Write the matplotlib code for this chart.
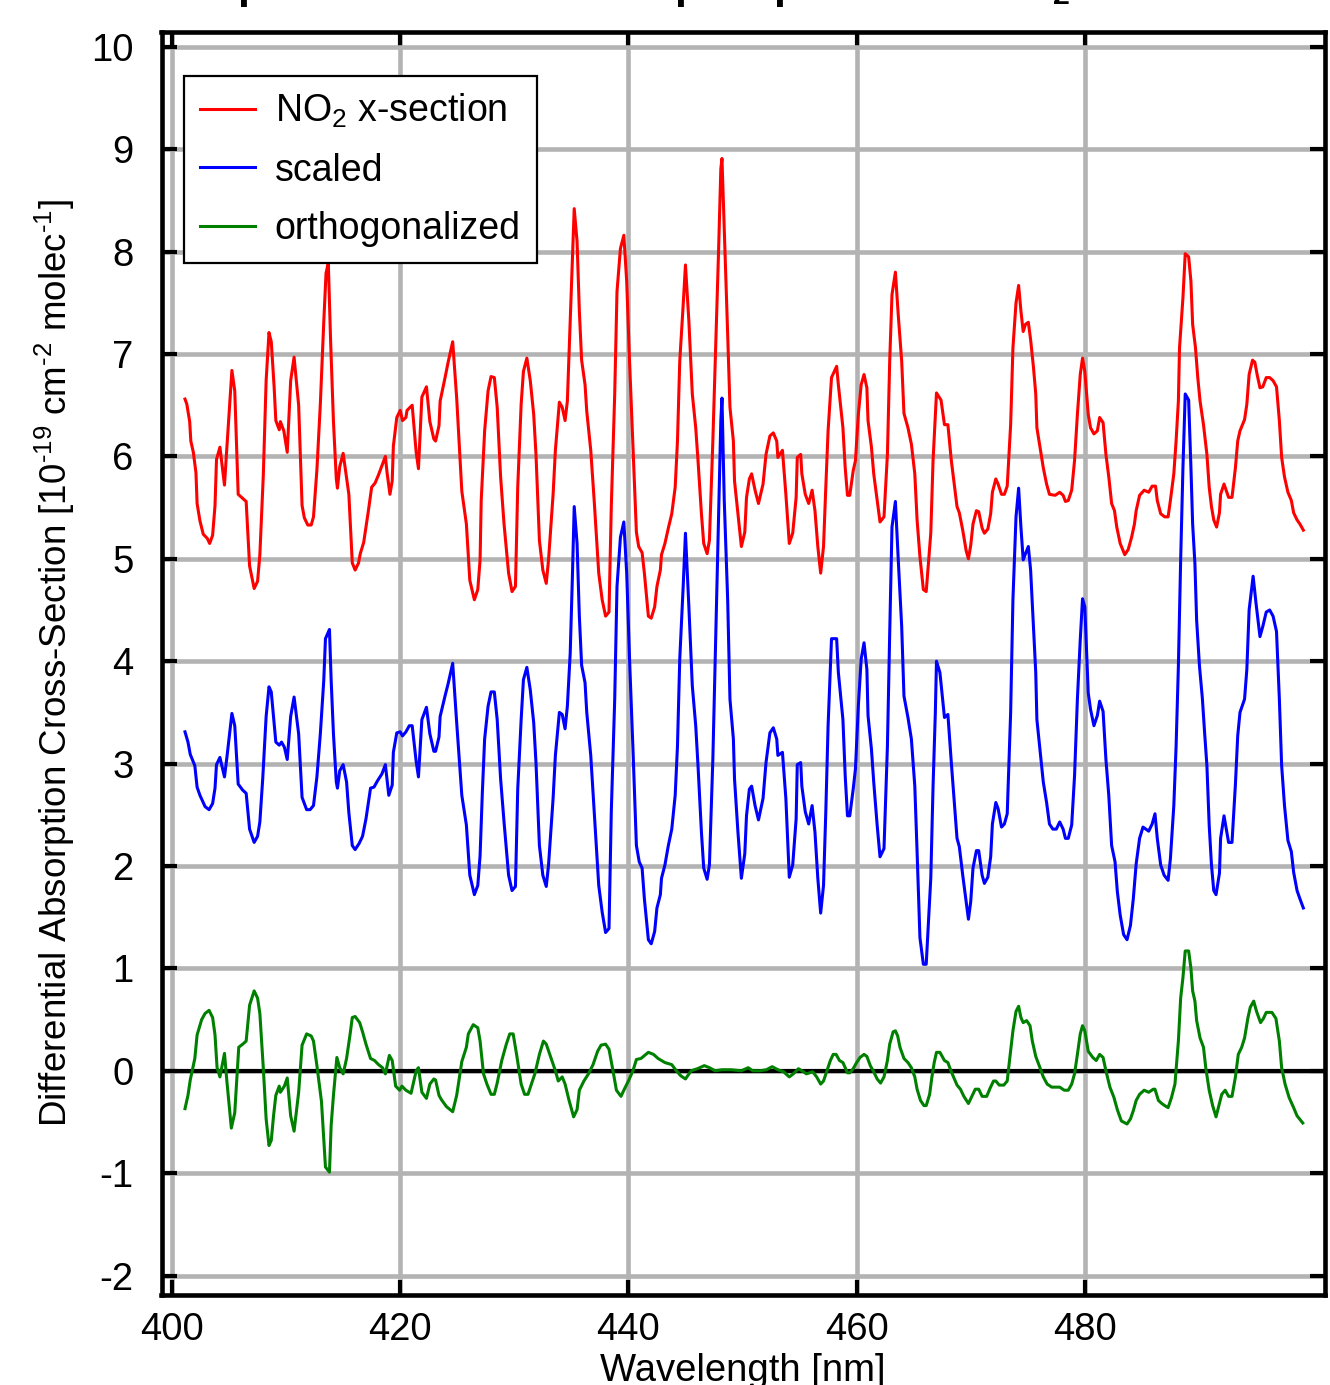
import numpy as np
import matplotlib
matplotlib.use("Agg")
import matplotlib.pyplot as plt

plt.rcParams['font.family'] = ['Liberation Sans', 'DejaVu Sans']
plt.rcParams['mathtext.fontset'] = 'custom'
plt.rcParams['mathtext.rm'] = 'Liberation Sans'
plt.rcParams['mathtext.it'] = 'Liberation Sans:italic'
plt.rcParams['mathtext.bf'] = 'Liberation Sans:bold'
plt.rcParams['axes.unicode_minus'] = False

# ---------------- data ----------------
wl_no2 = [401.14, 401.3, 401.55, 401.65, 401.87, 402.1, 402.2, 402.45, 402.74, 403.09, 403.3, 403.56, 403.77, 403.9,
          404.2, 404.6, 404.8, 405.25, 405.5, 405.8, 406.2, 406.5, 406.8, 407.2, 407.5, 407.7, 408.0, 408.25, 408.5,
          408.7, 408.95, 409.1, 409.4, 409.5, 409.8, 410.1, 410.4, 410.7, 411.1, 411.4, 411.6, 411.9, 412.2, 412.4,
          412.7, 413.0, 413.3, 413.5, 413.7, 413.9, 414.15, 414.4, 414.5, 414.7, 415.0, 415.2, 415.5, 415.8, 416.05,
          416.35, 416.5, 416.8, 417.2, 417.5, 417.8, 418.1, 418.4, 418.7, 418.85, 419.1, 419.3, 419.4, 419.7, 420.0,
          420.2, 420.5, 420.6, 421.05, 421.4, 421.6, 421.9, 422.3, 422.6, 422.95, 423.1, 423.4, 423.5, 423.95, 424.2,
          424.6, 424.95, 425.4, 425.8,
          426.1, 426.5, 426.8, 427.0, 427.1, 427.4, 427.7, 427.96, 428.25, 428.5, 428.8, 429.1, 429.5, 429.8, 430.1,
          430.3, 430.6, 430.8, 431.1, 431.4, 431.7, 431.9, 432.2, 432.5, 432.8, 433.0, 433.4, 433.6, 433.95, 434.2,
          434.45, 434.65, 434.9, 435.1, 435.25, 435.5, 435.7, 435.9, 436.2, 436.35, 436.7, 437.0, 437.4, 437.7,
          438.0, 438.3, 438.5, 438.8, 439.0, 439.3, 439.6, 439.85, 440.1, 440.4, 440.7, 440.9, 441.2, 441.4, 441.75,
          442.0, 442.3, 442.5, 442.8, 442.9, 443.2, 443.5, 443.8, 444.1, 444.3, 444.5, 444.8, 445.0, 445.3, 445.6,
          445.9, 446.1, 446.4, 446.6, 446.9, 447.1, 447.4, 447.65, 447.9, 448.1, 448.2, 448.4, 448.7, 448.9, 449.2,
          449.3, 449.6, 449.9, 450.2, 450.35, 450.6, 450.8, 451.1, 451.4,
          451.8, 452.06, 452.4, 452.7, 453.0, 453.1, 453.5, 453.8, 454.1, 454.4, 454.7, 454.8, 455.1, 455.2, 455.5,
          455.8, 456.1, 456.35, 456.6, 456.85, 457.1, 457.3, 457.5, 457.8, 458.25, 458.4, 458.8, 459.0, 459.2,
          459.4, 459.7, 459.9, 460.15, 460.4, 460.65, 460.9, 461.0, 461.3, 461.5, 461.8, 462.05, 462.4, 462.7,
          462.9, 463.1, 463.4, 463.65, 463.95, 464.15, 464.5, 464.8, 465.1, 465.3, 465.55, 465.85, 466.1, 466.5,
          466.7, 466.9, 467.0, 467.4, 467.7, 468.0, 468.3, 468.8, 469.0, 469.3, 469.6, 469.8, 470.0, 470.2, 470.5,
          470.7, 471.0, 471.2, 471.5, 471.75, 471.9, 472.2, 472.4, 472.7, 472.95, 473.2, 473.5, 473.7, 473.97,
          474.2, 474.4, 474.6, 474.8, 475.05, 475.25, 475.5, 475.7, 475.8,
          476.36, 476.65, 476.9, 477.4, 477.8, 478.1, 478.3, 478.55, 478.85, 479.1, 479.35, 479.6, 479.8, 480.0,
          480.3, 480.5, 480.8, 481.1, 481.3, 481.6, 481.85, 482.1, 482.35, 482.6, 482.8, 483.1, 483.5, 483.8,
          484.1, 484.35, 484.5, 484.8, 485.2, 485.6, 485.9, 486.2, 486.35, 486.65, 487.0, 487.3, 487.5, 487.8,
          488.0, 488.2, 488.3, 488.6, 488.8, 489.1, 489.3, 489.45, 489.7, 489.9, 490.1, 490.4, 490.7, 490.9,
          491.1, 491.3, 491.55, 491.8, 491.9, 492.2, 492.6, 492.9, 493.2, 493.4, 493.6, 494.0, 494.2, 494.4,
          494.7, 494.9, 495.1, 495.35, 495.6, 495.9, 496.2, 496.5, 496.8, 497.05, 497.25, 497.5, 497.8, 498.1,
          498.3, 498.6, 498.85, 499.15]
no2_xsec = [6.56, 6.51, 6.34, 6.15, 6.04, 5.84, 5.54, 5.37, 5.24, 5.20, 5.15, 5.23, 5.52, 5.97,
            6.09, 5.72, 6.07, 6.84, 6.64, 5.63, 5.59, 5.56, 4.93, 4.71, 4.78, 5.04, 5.81, 6.74, 7.21,
            7.12, 6.68, 6.35, 6.26, 6.34, 6.25, 6.04, 6.74, 6.97, 6.50, 5.52, 5.40, 5.33, 5.33, 5.41,
            5.87, 6.51, 7.31, 7.79, 7.89, 7.13, 6.34, 5.78, 5.69, 5.90, 6.03, 5.87, 5.63, 4.96, 4.89,
            4.96, 5.05, 5.16, 5.46, 5.70, 5.74, 5.82, 5.91, 6.00, 5.84, 5.63, 5.76, 6.10, 6.38, 6.45,
            6.35, 6.38, 6.45, 6.50, 6.04, 5.88, 6.58, 6.68, 6.34, 6.17, 6.15, 6.30, 6.54, 6.78, 6.92,
            7.12, 6.57, 5.66, 5.34,
            4.79, 4.60, 4.70, 4.99, 5.57, 6.25, 6.64, 6.78, 6.77, 6.48, 5.80, 5.34, 4.86, 4.68, 4.73,
            5.70, 6.51, 6.83, 6.96, 6.74, 6.41, 6.02, 5.18, 4.89, 4.76, 4.99, 5.63, 6.06, 6.53, 6.48,
            6.35, 6.54, 7.32, 7.97, 8.42, 8.10, 7.42, 6.94, 6.70, 6.44, 6.06, 5.57, 4.86, 4.60,
            4.44, 4.48, 5.51, 6.61, 7.61, 8.03, 8.16, 7.71, 6.93, 6.09, 5.26, 5.12, 5.06, 4.86, 4.44,
            4.42, 4.53, 4.73, 4.89, 5.04, 5.15, 5.30, 5.44, 5.70, 6.15, 6.93, 7.48, 7.87, 7.32, 6.61,
            6.28, 5.96, 5.44, 5.15, 5.05, 5.18, 6.15, 7.06, 8.00, 8.81, 8.91, 8.23, 7.19, 6.48, 6.15,
            5.76, 5.44, 5.12, 5.26, 5.60, 5.78, 5.83, 5.67, 5.54,
            5.73, 6.02, 6.20, 6.23, 6.15, 5.99, 6.06, 5.63, 5.15, 5.25, 5.60, 5.99, 6.02, 5.83, 5.63,
            5.54, 5.67, 5.47, 5.12, 4.86, 5.12, 5.70, 6.25, 6.77, 6.88, 6.70, 6.28, 5.89, 5.62,
            5.62, 5.86, 5.96, 6.41, 6.70, 6.80, 6.67, 6.35, 6.09, 5.83, 5.57, 5.36, 5.41, 6.02,
            6.93, 7.58, 7.80, 7.38, 6.93, 6.42, 6.28, 6.12, 5.83, 5.38, 5.02, 4.70, 4.68, 5.25,
            5.96, 6.41, 6.62, 6.55, 6.31, 6.31, 5.96, 5.51, 5.45, 5.28, 5.08, 5.00, 5.13, 5.34, 5.47,
            5.46, 5.30, 5.25, 5.29, 5.44, 5.65, 5.78, 5.73, 5.63, 5.63, 5.71, 6.31, 7.06, 7.50,
            7.67, 7.42, 7.22, 7.29, 7.31, 7.14, 6.87, 6.61, 6.28,
            5.89, 5.73, 5.63, 5.62, 5.65, 5.62, 5.56, 5.57, 5.67, 5.96, 6.41, 6.80, 6.96, 6.83,
            6.41, 6.28, 6.22, 6.25, 6.38, 6.33, 6.02, 5.80, 5.54, 5.47, 5.31, 5.15, 5.04, 5.09,
            5.21, 5.34, 5.47, 5.62, 5.67, 5.65, 5.71, 5.71, 5.57, 5.44, 5.41, 5.41, 5.57, 5.83,
            6.15, 6.54, 7.06, 7.55, 7.98, 7.95, 7.71, 7.29, 7.06, 6.77, 6.54, 6.31, 6.02, 5.70,
            5.51, 5.38, 5.31, 5.45, 5.63, 5.73, 5.60, 5.60, 5.89, 6.15, 6.25, 6.36, 6.51, 6.80,
            6.94, 6.92, 6.80, 6.67, 6.68, 6.77, 6.77, 6.74, 6.68, 6.35, 5.99, 5.80, 5.65, 5.57,
            5.45, 5.38, 5.34, 5.28]

wl_scaled = [401.14, 401.4, 401.6, 402.0, 402.2, 402.45, 402.9, 403.25, 403.56, 403.77, 403.9, 404.2, 404.6,
             404.8, 405.25, 405.5, 405.8, 406.2, 406.5, 406.8, 407.2, 407.5, 407.7, 407.95, 408.25, 408.5, 408.7,
             408.95, 409.1, 409.4, 409.6, 409.85, 410.1, 410.4, 410.7, 411.1, 411.4, 411.8, 412.1, 412.4, 412.7,
             413.0, 413.3, 413.45, 413.8, 413.95, 414.15, 414.4, 414.5, 414.7, 415.0, 415.3, 415.5, 415.8, 416.05,
             416.4, 416.7, 417.0, 417.4, 417.7, 418.0, 418.4, 418.7, 419.0, 419.3, 419.4, 419.7, 420.0, 420.2,
             420.5, 420.8, 421.05, 421.4, 421.6, 421.9, 422.3, 422.6, 422.95, 423.1, 423.4, 423.5, 423.95, 424.2,
             424.6, 424.95, 425.4, 425.8,
             426.1, 426.5, 426.8, 427.0, 427.2, 427.4, 427.7, 427.96, 428.25, 428.5, 428.8, 429.1, 429.5, 429.8,
             430.1, 430.3, 430.6, 430.8, 431.1, 431.4, 431.7, 431.9, 432.2, 432.5, 432.8, 433.0, 433.4, 433.6,
             433.95, 434.2, 434.45, 434.65, 434.9, 435.1, 435.25, 435.5, 435.7, 435.9, 436.2, 436.35, 436.7, 437.0,
             437.4, 437.7, 438.0, 438.3, 438.5, 438.8, 439.0, 439.3, 439.6, 439.85, 440.1, 440.4, 440.7, 440.95,
             441.2, 441.4, 441.75, 442.0, 442.3, 442.5, 442.8, 442.9, 443.2, 443.5, 443.8, 444.1, 444.3, 444.5,
             444.8, 445.0, 445.3, 445.6, 445.9, 446.1, 446.4, 446.6, 446.9, 447.1, 447.4, 447.65, 447.9, 448.1,
             448.2, 448.4, 448.7, 448.9, 449.2, 449.3, 449.6, 449.9, 450.2, 450.35, 450.6, 450.8, 451.1, 451.4,
             451.8, 452.06, 452.4, 452.7, 453.0, 453.1, 453.5, 453.8, 454.1, 454.4, 454.7, 454.8, 455.1, 455.2,
             455.5, 455.8, 456.1, 456.35, 456.6, 456.85, 457.1, 457.3, 457.5, 457.8, 458.25, 458.4, 458.8, 459.0,
             459.2, 459.4, 459.7, 459.9, 460.15, 460.4, 460.65, 460.9, 461.0, 461.3, 461.5, 461.8, 462.05, 462.4,
             462.7, 462.9, 463.1, 463.4, 463.65, 463.95, 464.15, 464.5, 464.8, 465.1, 465.3, 465.55, 465.85,
             466.1, 466.5, 466.7, 466.9, 467.0, 467.3, 467.7, 468.0, 468.3, 468.8, 469.0, 469.3, 469.6, 469.8,
             470.0, 470.2, 470.5, 470.7, 471.0, 471.2, 471.5, 471.75, 471.9, 472.2, 472.4, 472.7, 472.95, 473.2,
             473.5, 473.7, 473.97, 474.2, 474.4, 474.6, 474.8, 475.05, 475.25, 475.5, 475.7, 475.8,
             476.36, 476.65, 476.9, 477.2, 477.5, 477.8, 478.1, 478.3, 478.55, 478.85, 479.1, 479.35, 479.6,
             479.8, 480.0, 480.3, 480.5, 480.8, 481.1, 481.3, 481.6, 481.85, 482.1, 482.35, 482.65, 482.85,
             483.1, 483.4, 483.7, 484.0, 484.25, 484.5, 484.8, 485.1, 485.6, 485.9, 486.15, 486.35, 486.65,
             486.95, 487.3, 487.5, 487.8, 488.0, 488.2, 488.4, 488.6, 488.8, 489.1, 489.3, 489.45, 489.65,
             489.8, 490.05, 490.3, 490.5, 490.7, 490.9, 491.1, 491.3, 491.5, 491.8, 491.9, 492.2, 492.6, 492.9,
             493.2, 493.4, 493.6, 494.0, 494.2, 494.4, 494.75, 495.0, 495.35, 495.6, 495.9, 496.2, 496.5, 496.8,
             497.05, 497.25, 497.5, 497.8, 498.1, 498.3, 498.6, 498.85, 499.15]
scaled_xsec = [3.31, 3.21, 3.09, 2.98, 2.77, 2.69, 2.58, 2.55, 2.61, 2.76, 2.99, 3.06, 2.87,
               3.05, 3.49, 3.37, 2.80, 2.74, 2.71, 2.36, 2.23, 2.29, 2.43, 2.85, 3.46, 3.75, 3.70,
               3.40, 3.21, 3.18, 3.21, 3.16, 3.04, 3.46, 3.65, 3.29, 2.67, 2.55, 2.55, 2.59, 2.87,
               3.29, 3.81, 4.22, 4.31, 3.81, 3.29, 2.82, 2.76, 2.93, 2.99, 2.82, 2.52, 2.20, 2.16,
               2.22, 2.29, 2.46, 2.76, 2.77, 2.83, 2.90, 2.99, 2.69, 2.79, 3.11, 3.30, 3.31, 3.27,
               3.31, 3.37, 3.37, 3.02, 2.87, 3.43, 3.55, 3.29, 3.12, 3.12, 3.26, 3.46, 3.67, 3.78,
               3.98, 3.40, 2.69, 2.40,
               1.91, 1.72, 1.81, 2.10, 2.72, 3.24, 3.56, 3.70, 3.70, 3.43, 2.85, 2.43, 1.91, 1.76,
               1.80, 2.75, 3.43, 3.82, 3.94, 3.72, 3.40, 3.01, 2.20, 1.91, 1.80, 2.01, 2.66, 3.08,
               3.50, 3.48, 3.34, 3.56, 4.08, 4.86, 5.51, 5.15, 4.44, 3.96, 3.79, 3.50, 3.08, 2.53,
               1.81, 1.55, 1.35, 1.39, 2.53, 3.63, 4.73, 5.21, 5.36, 4.86, 4.02, 3.14, 2.20, 2.04,
               1.98, 1.68, 1.28, 1.24, 1.36, 1.59, 1.72, 1.88, 2.01, 2.20, 2.36, 2.69, 3.17, 4.02,
               4.73, 5.25, 4.53, 3.76, 3.37, 2.98, 2.33, 1.98, 1.87, 2.01, 3.04, 4.21, 5.38, 6.35,
               6.57, 5.57, 4.60, 3.63, 3.24, 2.85, 2.33, 1.88, 2.12, 2.49, 2.75, 2.78, 2.59, 2.45,
               2.66, 3.01, 3.30, 3.35, 3.24, 3.08, 3.11, 2.66, 1.89, 2.01, 2.46, 2.99, 3.01, 2.78,
               2.53, 2.41, 2.59, 2.33, 1.88, 1.54, 1.81, 2.53, 3.37, 4.22, 4.22, 3.89, 3.43, 2.88,
               2.49, 2.49, 2.75, 2.95, 3.56, 4.02, 4.18, 3.92, 3.47, 3.14, 2.82, 2.40, 2.09, 2.17,
               3.17, 4.27, 5.31, 5.56, 4.99, 4.34, 3.66, 3.45, 3.24, 2.78, 2.14, 1.30, 1.04,
               1.04, 1.88, 2.78, 3.50, 4.00, 3.89, 3.45, 3.48, 3.01, 2.27, 2.19, 1.91, 1.65, 1.48,
               1.65, 1.98, 2.15, 2.15, 1.91, 1.83, 1.89, 2.09, 2.41, 2.62, 2.56, 2.38, 2.41, 2.51,
               3.50, 4.60, 5.41, 5.69, 5.31, 4.99, 5.05, 5.12, 4.89, 4.34, 3.89, 3.43,
               2.82, 2.62, 2.41, 2.36, 2.36, 2.43, 2.36, 2.27, 2.27, 2.40, 2.88, 3.63, 4.21,
               4.61, 4.53, 3.69, 3.53, 3.37, 3.47, 3.61, 3.51, 3.04, 2.69, 2.20, 2.04, 1.75,
               1.52, 1.33, 1.28, 1.42, 1.68, 2.02, 2.27, 2.38, 2.34, 2.41, 2.51, 2.27, 2.01,
               1.91, 1.86, 2.07, 2.59, 3.17, 3.95, 4.99, 5.89, 6.61, 6.55, 5.89, 5.34, 4.95,
               4.40, 3.95, 3.64, 3.30, 2.98, 2.40, 2.01, 1.76, 1.72, 1.93, 2.27, 2.49, 2.23, 2.23,
               2.80, 3.27, 3.50, 3.63, 3.92, 4.50, 4.83, 4.57, 4.24, 4.34, 4.48, 4.50, 4.44, 4.29,
               3.63, 2.98, 2.59, 2.25, 2.14, 1.94, 1.76, 1.68, 1.59]

wl_orth = [401.14, 401.4, 401.6, 402.0, 402.2, 402.6, 402.9, 403.25, 403.56, 403.77, 403.95, 404.2, 404.6,
           404.8, 405.2, 405.5, 405.85, 406.2, 406.5, 406.8, 407.2, 407.5, 407.7, 408.0, 408.25, 408.5, 408.7,
           408.9, 409.1, 409.4, 409.5, 409.85, 410.1, 410.4, 410.7, 411.1, 411.4, 411.8, 412.2, 412.4, 412.7,
           413.1, 413.45, 413.8, 413.95, 414.15, 414.45, 414.7, 415.0, 415.3, 415.6, 415.8, 416.05, 416.45,
           416.7, 417.0, 417.4, 417.75, 418.1, 418.45, 418.7, 419.05, 419.3, 419.6, 419.95, 420.15, 420.5,
           420.95, 421.4, 421.6, 421.9, 422.3, 422.6, 422.95, 423.1, 423.4, 423.6, 424.05, 424.6, 424.95, 425.4,
           425.8,
           425.97, 426.4, 426.8, 427.0, 427.3, 427.6, 427.96, 428.25, 428.5, 428.9, 429.3, 429.6, 429.9, 430.2,
           430.6, 430.9, 431.2, 431.5, 431.8, 432.2, 432.55, 432.8, 433.2, 433.6, 433.85, 434.2, 434.45, 434.8,
           435.2, 435.5, 435.7, 436.1, 436.5, 436.9, 437.3, 437.6, 438.0, 438.3, 438.6, 438.95, 439.35, 439.6,
           440.0, 440.4, 440.7, 441.1, 441.75, 442.2, 442.6, 443.2, 443.8, 444.2, 444.6, 445.0, 445.5, 446.05,
           446.65, 447.1, 447.6, 448.2, 449.0, 449.9, 450.5, 450.9,
           451.53, 452.1, 452.6, 453.1, 453.6, 454.1, 454.45, 454.9, 455.2, 455.6, 456.15, 456.5, 456.85, 457.1,
           457.4, 457.7, 457.95, 458.2, 458.5, 458.8, 459.2, 459.4, 459.7, 460.0, 460.3, 460.65, 460.9, 461.2,
           461.5, 461.8, 462.1, 462.4, 462.7, 462.9, 463.2, 463.4, 463.6, 463.8, 464.15, 464.5, 464.8, 465.1,
           465.3, 465.6, 465.9, 466.1, 466.4, 466.6, 466.8, 467.0, 467.3, 467.7, 468.0, 468.3, 468.8, 469.1,
           469.4, 469.8, 470.1, 470.4, 470.7, 471.0, 471.4, 471.7, 472.0, 472.2, 472.5, 472.9, 473.2, 473.4,
           473.7, 473.97, 474.2, 474.4, 474.6, 474.9, 475.2, 475.4, 475.7,
           476.07, 476.36, 476.7, 477.1, 477.8, 478.2, 478.55, 478.85, 479.1, 479.35, 479.6, 479.8, 480.0,
           480.3, 480.7, 481.0, 481.3, 481.6, 481.85, 482.2, 482.55, 482.85, 483.2, 483.7, 484.0, 484.25,
           484.5, 484.8, 485.2, 485.6, 486.0, 486.15, 486.45, 486.75, 487.0, 487.3, 487.6, 487.9, 488.2,
           488.4, 488.6, 488.8, 489.1, 489.3, 489.45, 489.65, 489.8, 490.1, 490.4, 490.6, 490.9, 491.2, 491.5,
           491.8, 492.0, 492.3, 492.6, 492.9, 493.2, 493.45, 493.75, 494.0, 494.3, 494.5, 494.8, 495.05,
           495.4, 495.65, 495.9, 496.4, 496.75, 497.05, 497.25, 497.55, 497.9, 498.3, 498.6, 499.1]
orth_xsec = [-0.37, -0.24, -0.09, 0.12, 0.35, 0.50, 0.56, 0.59, 0.52, 0.35, 0.03, -0.06, 0.17,
             -0.09, -0.56, -0.41, 0.23, 0.26, 0.29, 0.64, 0.78, 0.71, 0.56, 0.03, -0.47, -0.73, -0.68,
             -0.44, -0.24, -0.15, -0.21, -0.15, -0.07, -0.44, -0.59, -0.21, 0.25, 0.36, 0.34, 0.29, 0.05,
             -0.30, -0.94, -0.99, -0.53, -0.24, 0.13, 0.03, -0.03, 0.12, 0.35, 0.52, 0.53, 0.47,
             0.38, 0.26, 0.12, 0.10, 0.06, 0.03, -0.03, 0.15, 0.10, -0.15, -0.19, -0.15, -0.19,
             -0.22, 0.00, 0.03, -0.21, -0.27, -0.13, -0.08, -0.09, -0.24, -0.28, -0.35, -0.40, -0.24, 0.09,
             0.23,
             0.36, 0.45, 0.42, 0.29, -0.03, -0.13, -0.23, -0.23, -0.12, 0.10, 0.26, 0.36, 0.36, 0.16,
             -0.13, -0.23, -0.23, -0.13, -0.03, 0.16, 0.29, 0.26, 0.13, 0.00, -0.10, -0.06, -0.13, -0.29,
             -0.45, -0.38, -0.19, -0.10, -0.03, 0.06, 0.19, 0.25, 0.26, 0.21, 0.03, -0.19, -0.25, -0.19,
             -0.10, 0.00, 0.11, 0.12, 0.18, 0.16, 0.12, 0.08, 0.06, 0.00, -0.05, -0.08, 0.00, 0.02,
             0.05, 0.03, 0.00, 0.01, 0.01, 0.00, 0.03, 0.00,
             0.00, 0.01, 0.04, 0.01, -0.01, -0.06, -0.03, 0.02, 0.00, -0.03, -0.01, -0.06, -0.13, -0.10,
             0.00, 0.10, 0.16, 0.16, 0.10, 0.08, -0.02, -0.02, 0.02, 0.08, 0.13, 0.16, 0.14, 0.05,
             -0.01, -0.08, -0.12, -0.06, 0.10, 0.26, 0.38, 0.39, 0.34, 0.23, 0.12, 0.08, 0.03, -0.06,
             -0.18, -0.29, -0.34, -0.34, -0.23, -0.06, 0.08, 0.18, 0.18, 0.10, 0.08, -0.01, -0.14, -0.18,
             -0.25, -0.32, -0.25, -0.18, -0.18, -0.25, -0.25, -0.17, -0.10, -0.10, -0.14, -0.14, -0.10, 0.10,
             0.39, 0.58, 0.63, 0.52, 0.47, 0.49, 0.44, 0.29, 0.14,
             0.03, -0.06, -0.13, -0.16, -0.16, -0.19, -0.19, -0.13, -0.03, 0.16, 0.36, 0.44, 0.39,
             0.19, 0.13, 0.10, 0.16, 0.13, 0.00, -0.16, -0.26, -0.38, -0.49, -0.52, -0.47, -0.39,
             -0.29, -0.23, -0.19, -0.21, -0.18, -0.18, -0.29, -0.32, -0.34, -0.36, -0.26, -0.13, 0.29,
             0.71, 0.91, 1.17, 1.17, 1.00, 0.78, 0.68, 0.49, 0.32, 0.23, 0.03, -0.19, -0.34, -0.45,
             -0.32, -0.23, -0.19, -0.25, -0.25, -0.06, 0.16, 0.23, 0.32, 0.52, 0.62, 0.68, 0.58,
             0.47, 0.51, 0.57, 0.57, 0.51, 0.29, 0.03, -0.13, -0.26, -0.36, -0.44, -0.51]

series_labels = [r"NO$_2$ x-section", "scaled", "orthogonalized"]
series_colors = ["#ff0000", "#0000ff", "#008000"]
x_ticks = [400, 420, 440, 460, 480]
y_ticks = list(range(-2, 11))
title_prefix = "Exam"
title_main = "Example of the scaled sample spectra vs. NO"
title_text = title_main + r"$_\mathbf{2}$"
ylabel_text = (r"Differential Absorption Cross-Section [10$^{\text{-}19}$ cm$^{\text{-}2}$ "
               r"molec$^{\text{-}1}$]")

# ---------------- figure ----------------
W, H = 1330, 1385
fig = plt.figure(figsize=(W / 100, H / 100), dpi=100)
L, R, T, B = 161.5, 1325.0, 31.5, 1295.0
ax = fig.add_axes([L / W, 1 - B / H, (R - L) / W, (B - T) / H])

FS = 27.5
ax.set_xlim(399.08, 501.05)
ax.set_ylim(-2.19, 10.15)
ax.set_xticks(x_ticks)
ax.set_yticks(y_ticks)
ax.grid(True, color="#b3b3b3", linewidth=3.3, zorder=0)
ax.set_axisbelow(True)
ax.axhline(0, color="black", linewidth=3.0, zorder=1.5)

lw = 2.2
ax.plot(wl_no2, no2_xsec, color=series_colors[0], lw=lw, label=series_labels[0], zorder=3)
ax.plot(wl_scaled, scaled_xsec, color=series_colors[1], lw=lw, label=series_labels[1], zorder=3)
ax.plot(wl_orth, orth_xsec, color=series_colors[2], lw=lw, label=series_labels[2], zorder=3)

for s in ax.spines.values():
    s.set_linewidth(3.3)
    s.set_color("black")
ax.tick_params(axis="both", which="major", direction="in", length=10.5, width=3.0,
               top=True, right=True, labelsize=FS, color="black")
ax.tick_params(axis="x", pad=12)
ax.tick_params(axis="y", pad=20)

ax.set_xlabel("Wavelength [nm]", fontsize=FS, labelpad=4)
ax.set_ylabel(ylabel_text, fontsize=26.5, labelpad=10)

leg = ax.legend(loc="upper left", bbox_to_anchor=((184 - L) / (R - L), (B - 76) / (B - T)),
                borderaxespad=0, fontsize=27, frameon=True, fancybox=False, framealpha=1,
                edgecolor="black", handlelength=1.48, handletextpad=0.52, borderpad=0.42,
                labelspacing=0.6)
leg.get_frame().set_linewidth(1.6)

# title: only its lower part is inside the picture, as in the reference
renderer = fig.canvas.get_renderer()
TFS = 32.0
tmp1 = fig.text(0, 0.5, title_prefix, fontsize=TFS, fontweight="bold")
tmp2 = fig.text(0, 0.5, title_main, fontsize=TFS, fontweight="bold")
w1 = tmp1.get_window_extent(renderer).width
w2 = tmp2.get_window_extent(renderer).width
tmp1.remove()
tmp2.remove()
em = TFS / 72 * 100
scale = (1064 - 238) / (w2 - w1 + 0.2 * em)
TFS = TFS * scale
x0 = 238 - w1 * scale
fig.text(x0 / W, 1 + 2 / H, title_text, fontsize=TFS, fontweight="bold",
         ha="left", va="baseline")

fig.savefig("out.png", dpi=100)
